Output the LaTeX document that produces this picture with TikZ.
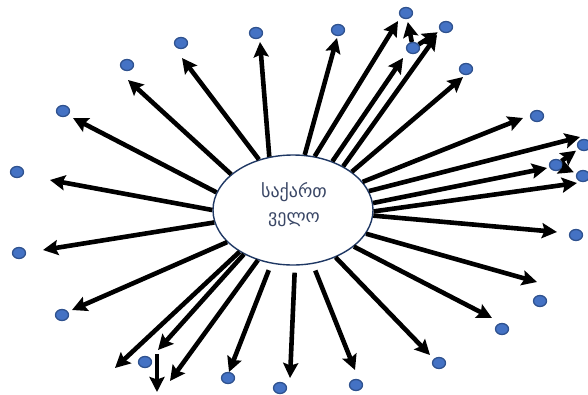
\documentclass[tikz,border=0pt]{standalone}
\usepackage{fontspec}
\newfontfamily\geofont[Script=Georgian]{DejaVu Sans}
\usetikzlibrary{arrows.meta,shapes.geometric}
\definecolor{dotblue}{HTML}{4472C4}
\definecolor{dotedge}{HTML}{2F528F}
\definecolor{rimblue}{HTML}{1F3864}
\definecolor{textgrey}{HTML}{3A4766}

\begin{document}
\begin{tikzpicture}[x=1pt, y=-1pt,
  spoke/.style={line width=4.6pt, -{Stealth[length=15pt,width=15pt,inset=2.5pt]}},
  loose/.style={shorten <=7pt},
  dot/.style={ellipse, draw=dotedge, fill=dotblue, line width=1.3pt,
              minimum width=13pt, minimum height=11pt, inner sep=0pt}]
\useasboundingbox (0,0) rectangle (588,394);
\node[ellipse, draw=rimblue, line width=1.4pt, fill=white,
      minimum width=160pt, minimum height=110pt] (geo) at (293,210) {};
\node[align=center, text=textgrey, font=\geofont\fontsize{18}{25}\selectfont]
      (name) at (294,205) {საქართ\\ველო};
% outer dots
\foreach \n/\x/\y in {1/17/172, 2/63/111, 3/127/65, 4/181/43, 5/256/33,
    6/338/30, 7/406/13, 8/413/48, 9/446/27, 10/466/69, 11/537/116,
    12/584/145, 13/556/165, 14/583/176, 15/576/235, 16/540/301,
    17/502/329, 18/439/363, 19/356/385, 20/280/388, 21/228/378,
    22/145/362, 23/62/315, 24/19/253}
  \coordinate (p\n) at (\x,\y);
% arrow tips
\foreach \n/\x/\y in {1/50/180, 2/73/118, 3/128/80, 4/182/58, 5/260/42,
    6/337/38, 7/398/21, 8/403/58, 9/437/35, 10/463/77, 11/523/118,
    12/580/137, 13/547/168, 14/577/183, 15/557/232, 16/537/282,
    17/492/318, 18/430/355, 19/355/370, 20/290/378, 21/229/372,
    22/170/381, 23/158/350, 24/115/368, 25/43/250, 26/72/310}
  \coordinate (t\n) at (\x,\y);
\coordinate (drop1) at (157,354);
\coordinate (drop2) at (157,392);
% spokes out of the ellipse
\foreach \n/\a in {1/180, 2/167, 3/150, 4/124, 5/114, 6/78, 7/68, 8/51,
    9/41, 10/33, 11/22, 12/14, 13/5, 14/-1, 15/-4, 16/-18, 17/-31,
    18/-48, 22/-125, 23/-138, 24/-142, 25/-171, 26/-154}
  \draw[spoke] (geo.\a) -- (t\n);
\foreach \n/\a in {19/-70, 20/-88, 21/-112}
  \draw[spoke, loose] (geo.\a) -- (t\n);
\foreach \n in {1,...,24}
  \node[dot] (d\n) at (p\n) {};
\draw[spoke, shorten >=3pt] (d8) -- (d7);
\draw[spoke, shorten >=3pt] (d8) -- (d9);
\draw[spoke, shorten >=3pt] (d13) -- (d12);
\draw[spoke, shorten >=3pt] (d13) -- (d14);
\draw[spoke] (drop1) -- (drop2);
\end{tikzpicture}
\end{document}
